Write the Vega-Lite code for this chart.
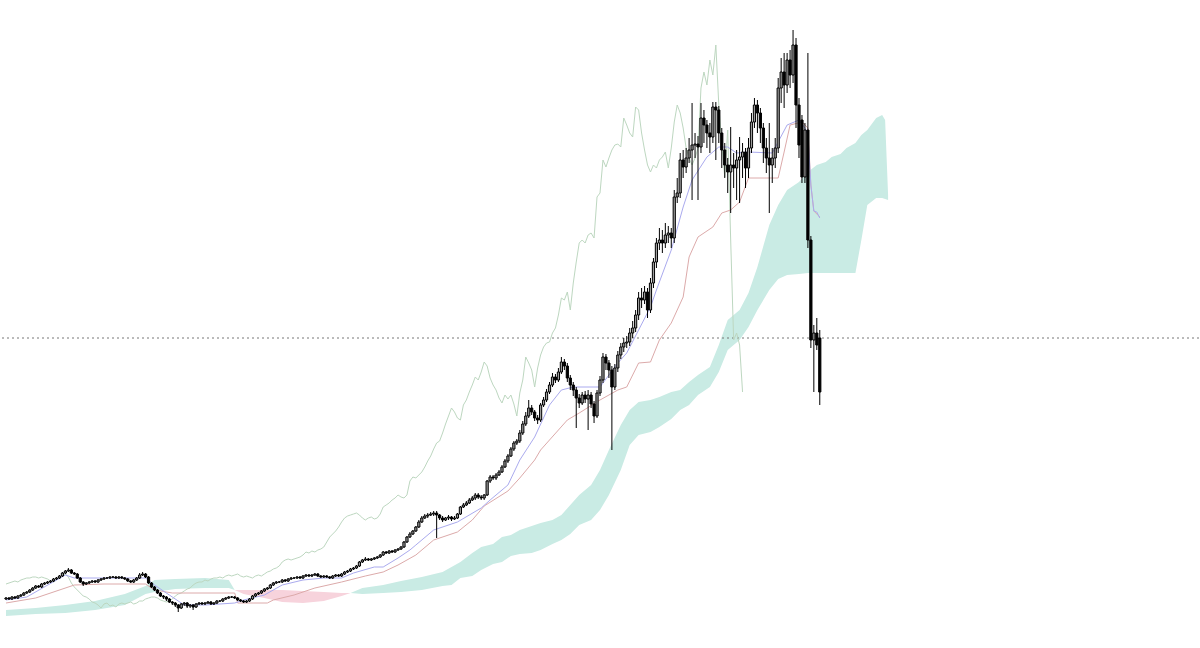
{
"$schema": "https://vega.github.io/schema/vega-lite/v6.json",
"width": 1200, "height": 648,
"autosize": {"type": "fit", "contains": "padding"},
"padding": 0,
"background": "#ffffff",
"config": {"view": {"stroke": null}},
"datasets": {
"cloud": [
{"i":0,"a":38,"b":32,"s":1,"t":"up"},{"i":10,"a":40,"b":34,"s":1,"t":"up"},{"i":20,"a":43,"b":35,"s":1,"t":"up"},{"i":30,"a":47,"b":38,"s":1,"t":"up"},{"i":40,"a":54,"b":43,"s":1,"t":"up"},{"i":47,"a":62,"b":54,"s":1,"t":"up"},{"i":50,"a":68,"b":56,"s":1,"t":"up"},{"i":57,"a":69,"b":59,"s":1,"t":"up"},{"i":67,"a":70,"b":60,"s":1,"t":"up"},{"i":75,"a":68,"b":60,"s":1,"t":"up"},{"i":77,"a":58,"b":58,"s":1,"t":"up"},
{"i":77,"a":58,"b":58,"s":2,"t":"dn"},{"i":80,"a":54,"b":58,"s":2,"t":"dn"},{"i":87,"a":50,"b":58,"s":2,"t":"dn"},{"i":93,"a":46,"b":58,"s":2,"t":"dn"},{"i":100,"a":45,"b":57,"s":2,"t":"dn"},{"i":107,"a":47,"b":56,"s":2,"t":"dn"},{"i":113,"a":52,"b":55,"s":2,"t":"dn"},{"i":116,"a":55,"b":55,"s":2,"t":"dn"},
{"i":116,"a":55,"b":55,"s":3,"t":"up"},{"i":120,"a":60,"b":54,"s":3,"t":"up"},{"i":127,"a":63,"b":55,"s":3,"t":"up"},{"i":133,"a":67,"b":56,"s":3,"t":"up"},{"i":140,"a":71,"b":58,"s":3,"t":"up"},{"i":147,"a":76,"b":62,"s":3,"t":"up"},{"i":150,"a":81,"b":63,"s":3,"t":"up"},{"i":153,"a":86,"b":70,"s":3,"t":"up"},{"i":157,"a":95,"b":72,"s":3,"t":"up"},{"i":160,"a":101,"b":78,"s":3,"t":"up"},{"i":164,"a":104,"b":84,"s":3,"t":"up"},{"i":167,"a":111,"b":86,"s":3,"t":"up"},{"i":170,"a":113,"b":92,"s":3,"t":"up"},{"i":173,"a":118,"b":94,"s":3,"t":"up"},{"i":177,"a":122,"b":95,"s":3,"t":"up"},{"i":180,"a":125,"b":98,"s":3,"t":"up"},{"i":184,"a":128,"b":104,"s":3,"t":"up"},{"i":187,"a":133,"b":108,"s":3,"t":"up"},{"i":190,"a":143,"b":114,"s":3,"t":"up"},{"i":193,"a":153,"b":123,"s":3,"t":"up"},{"i":197,"a":163,"b":128,"s":3,"t":"up"},{"i":200,"a":178,"b":138,"s":3,"t":"up"},{"i":203,"a":198,"b":153,"s":3,"t":"up"},{"i":207,"a":223,"b":178,"s":3,"t":"up"},{"i":210,"a":238,"b":203,"s":3,"t":"up"},{"i":213,"a":246,"b":213,"s":3,"t":"up"},{"i":217,"a":248,"b":216,"s":3,"t":"up"},{"i":220,"a":251,"b":221,"s":3,"t":"up"},{"i":224,"a":256,"b":229,"s":3,"t":"up"},{"i":227,"a":258,"b":238,"s":3,"t":"up"},{"i":230,"a":266,"b":243,"s":3,"t":"up"},{"i":233,"a":273,"b":253,"s":3,"t":"up"},{"i":237,"a":281,"b":261,"s":3,"t":"up"},{"i":240,"a":303,"b":276,"s":3,"t":"up"},{"i":243,"a":328,"b":298,"s":3,"t":"up"},{"i":247,"a":338,"b":308,"s":3,"t":"up"},{"i":250,"a":355,"b":321,"s":3,"t":"up"},{"i":253,"a":381,"b":338,"s":3,"t":"up"},{"i":257,"a":423,"b":358,"s":3,"t":"up"},{"i":260,"a":443,"b":369,"s":3,"t":"up"},{"i":263,"a":458,"b":373,"s":3,"t":"up"},{"i":267,"a":466,"b":374,"s":3,"t":"up"},{"i":270,"a":476,"b":375,"s":3,"t":"up"},{"i":273,"a":483,"b":375,"s":3,"t":"up"},{"i":276,"a":486,"b":375,"s":3,"t":"up"},{"i":278,"a":491,"b":375,"s":3,"t":"up"},{"i":281,"a":494,"b":375,"s":3,"t":"up"},{"i":283,"a":500,"b":375,"s":3,"t":"up"},{"i":286,"a":505,"b":375,"s":3,"t":"up"},{"i":288,"a":513,"b":408,"s":3,"t":"up"},{"i":290,"a":518,"b":443,"s":3,"t":"up"},{"i":293,"a":530,"b":450,"s":3,"t":"up"},{"i":295,"a":533,"b":450,"s":3,"t":"up"},{"i":296,"a":528,"b":449,"s":3,"t":"up"},{"i":297,"a":453,"b":448,"s":3,"t":"up"}
],
"tk": [
{"i":0,"v":48},{"i":7,"v":51},{"i":17,"v":68},{"i":20,"v":73},{"i":23,"v":70},{"i":47,"v":70},{"i":50,"v":63},{"i":55,"v":53},{"i":60,"v":43},{"i":67,"v":43},{"i":77,"v":45},{"i":80,"v":48},{"i":87,"v":53},{"i":93,"v":63},{"i":100,"v":68},{"i":107,"v":70},{"i":113,"v":70},{"i":117,"v":75},{"i":124,"v":81},{"i":127,"v":81},{"i":132,"v":90},{"i":136,"v":98},{"i":138,"v":103},{"i":144,"v":118},{"i":152,"v":126},{"i":160,"v":140},{"i":163,"v":148},{"i":169,"v":163},{"i":173,"v":188},{"i":178,"v":211},{"i":183,"v":243},{"i":187,"v":258},{"i":191,"v":261},{"i":200,"v":261},{"i":206,"v":285},{"i":209,"v":295},{"i":213,"v":318},{"i":217,"v":341},{"i":219,"v":358},{"i":224,"v":398},{"i":228,"v":441},{"i":231,"v":468},{"i":236,"v":491},{"i":240,"v":501},{"i":243,"v":501},{"i":246,"v":495},{"i":250,"v":496},{"i":258,"v":495},{"i":263,"v":523},{"i":267,"v":528},{"i":269,"v":520},{"i":270,"v":513},{"i":271,"v":463},{"i":272,"v":437},{"i":273,"v":436},{"i":274,"v":430}
],
"kj": [
{"i":0,"v":45},{"i":10,"v":50},{"i":23,"v":63},{"i":33,"v":64},{"i":47,"v":64},{"i":50,"v":58},{"i":56,"v":55},{"i":77,"v":55},{"i":78,"v":45},{"i":88,"v":45},{"i":90,"v":48},{"i":97,"v":53},{"i":104,"v":60},{"i":113,"v":66},{"i":121,"v":72},{"i":127,"v":76},{"i":132,"v":83},{"i":138,"v":93},{"i":144,"v":108},{"i":152,"v":116},{"i":157,"v":128},{"i":161,"v":142},{"i":169,"v":157},{"i":173,"v":170},{"i":178,"v":188},{"i":180,"v":198},{"i":183,"v":208},{"i":189,"v":228},{"i":193,"v":235},{"i":200,"v":248},{"i":206,"v":258},{"i":209,"v":261},{"i":213,"v":285},{"i":217,"v":286},{"i":220,"v":308},{"i":224,"v":325},{"i":228,"v":351},{"i":230,"v":391},{"i":233,"v":411},{"i":238,"v":421},{"i":241,"v":435},{"i":244,"v":438},{"i":247,"v":446},{"i":250,"v":470},{"i":260,"v":470},{"i":262,"v":496},{"i":264,"v":523},{"i":268,"v":526},{"i":270,"v":520},{"i":271,"v":463},{"i":272,"v":437},{"i":274,"v":431}
],
"last": [{"p":310}],
"bars": [
{"i":0,"o":49,"h":51,"l":48,"c":50,"k":64},{"i":1,"o":50,"h":51,"l":48,"c":49,"k":65},{"i":2,"o":49,"h":52,"l":48,"c":51,"k":66},{"i":3,"o":51,"h":52,"l":49,"c":50,"k":67},{"i":4,"o":50,"h":53,"l":49,"c":52,"k":66},{"i":5,"o":52,"h":54,"l":51,"c":53,"k":68},{"i":6,"o":53,"h":56,"l":52,"c":55,"k":69},{"i":7,"o":55,"h":57,"l":54,"c":56,"k":70},{"i":8,"o":56,"h":59,"l":55,"c":58,"k":70},{"i":9,"o":58,"h":61,"l":57,"c":60,"k":71},
{"i":10,"o":60,"h":63,"l":59,"c":62,"k":71},{"i":11,"o":62,"h":63,"l":60,"c":61,"k":70},{"i":12,"o":61,"h":65,"l":60,"c":64,"k":71},{"i":13,"o":64,"h":66,"l":63,"c":65,"k":70},{"i":14,"o":65,"h":67,"l":64,"c":66,"k":69},{"i":15,"o":66,"h":68,"l":65,"c":67,"k":67},{"i":16,"o":67,"h":70,"l":66,"c":69,"k":66},{"i":17,"o":69,"h":71,"l":68,"c":70,"k":68},{"i":18,"o":70,"h":73,"l":69,"c":72,"k":70},{"i":19,"o":72,"h":76,"l":71,"c":75,"k":73},
{"i":20,"o":75,"h":78,"l":74,"c":77,"k":74},{"i":21,"o":77,"h":80,"l":76,"c":78,"k":71},{"i":22,"o":78,"h":79,"l":74,"c":75,"k":65},{"i":23,"o":75,"h":76,"l":73,"c":74,"k":61},{"i":24,"o":74,"h":75,"l":69,"c":70,"k":58},{"i":25,"o":70,"h":71,"l":65,"c":66,"k":55},{"i":26,"o":66,"h":67,"l":62,"c":64,"k":52},{"i":27,"o":64,"h":66,"l":63,"c":65,"k":51},{"i":28,"o":65,"h":67,"l":64,"c":66,"k":49},{"i":29,"o":66,"h":68,"l":65,"c":67,"k":46},
{"i":30,"o":67,"h":68,"l":65,"c":66,"k":45},{"i":31,"o":66,"h":69,"l":65,"c":68,"k":43},{"i":32,"o":68,"h":70,"l":67,"c":69,"k":40},{"i":33,"o":69,"h":71,"l":68,"c":70,"k":44},{"i":34,"o":70,"h":71,"l":69,"c":70,"k":45},{"i":35,"o":70,"h":72,"l":69,"c":71,"k":42},{"i":36,"o":71,"h":72,"l":70,"c":71,"k":43},{"i":37,"o":71,"h":72,"l":69,"c":70,"k":41},{"i":38,"o":70,"h":72,"l":69,"c":71,"k":44},{"i":39,"o":71,"h":72,"l":69,"c":70,"k":45},
{"i":40,"o":70,"h":71,"l":68,"c":69,"k":44},{"i":41,"o":69,"h":70,"l":66,"c":67,"k":45},{"i":42,"o":67,"h":68,"l":65,"c":66,"k":46},{"i":43,"o":66,"h":69,"l":65,"c":68,"k":44},{"i":44,"o":68,"h":71,"l":67,"c":70,"k":45},{"i":45,"o":70,"h":75,"l":69,"c":73,"k":47},{"i":46,"o":73,"h":76,"l":72,"c":74,"k":47},{"i":47,"o":74,"h":75,"l":70,"c":71,"k":49},{"i":48,"o":71,"h":72,"l":64,"c":65,"k":50},{"i":49,"o":65,"h":66,"l":60,"c":61,"k":51},
{"i":50,"o":61,"h":62,"l":57,"c":58,"k":51},{"i":51,"o":58,"h":59,"l":54,"c":55,"k":50},{"i":52,"o":55,"h":56,"l":51,"c":52,"k":48},{"i":53,"o":52,"h":53,"l":49,"c":51,"k":47},{"i":54,"o":51,"h":52,"l":47,"c":49,"k":46},{"i":55,"o":49,"h":50,"l":45,"c":46,"k":47},{"i":56,"o":46,"h":47,"l":43,"c":45,"k":49},{"i":57,"o":45,"h":46,"l":41,"c":43,"k":52},{"i":58,"o":43,"h":44,"l":36,"c":40,"k":54},{"i":59,"o":40,"h":45,"l":39,"c":44,"k":55},
{"i":60,"o":44,"h":46,"l":42,"c":45,"k":57},{"i":61,"o":45,"h":46,"l":40,"c":42,"k":59},{"i":62,"o":42,"h":44,"l":40,"c":43,"k":60},{"i":63,"o":43,"h":44,"l":38,"c":41,"k":63},{"i":64,"o":41,"h":45,"l":40,"c":44,"k":65},{"i":65,"o":44,"h":46,"l":43,"c":45,"k":66},{"i":66,"o":45,"h":46,"l":43,"c":44,"k":66},{"i":67,"o":44,"h":46,"l":43,"c":45,"k":68},{"i":68,"o":45,"h":47,"l":44,"c":46,"k":67},{"i":69,"o":46,"h":47,"l":43,"c":44,"k":69},
{"i":70,"o":44,"h":46,"l":43,"c":45,"k":70},{"i":71,"o":45,"h":48,"l":44,"c":47,"k":70},{"i":72,"o":47,"h":48,"l":46,"c":47,"k":71},{"i":73,"o":47,"h":50,"l":46,"c":49,"k":70},{"i":74,"o":49,"h":51,"l":48,"c":50,"k":72},{"i":75,"o":50,"h":52,"l":49,"c":51,"k":73},{"i":76,"o":51,"h":52,"l":50,"c":51,"k":72},{"i":77,"o":51,"h":52,"l":49,"c":50,"k":73},{"i":78,"o":50,"h":51,"l":47,"c":48,"k":74},{"i":79,"o":48,"h":49,"l":46,"c":47,"k":72},
{"i":80,"o":47,"h":48,"l":45,"c":46,"k":71},{"i":81,"o":46,"h":48,"l":45,"c":47,"k":72},{"i":82,"o":47,"h":50,"l":46,"c":49,"k":71},{"i":83,"o":49,"h":53,"l":48,"c":52,"k":70},{"i":84,"o":52,"h":55,"l":51,"c":54,"k":72},{"i":85,"o":54,"h":56,"l":53,"c":55,"k":73},{"i":86,"o":55,"h":58,"l":54,"c":57,"k":72},{"i":87,"o":57,"h":60,"l":56,"c":59,"k":74},{"i":88,"o":59,"h":61,"l":58,"c":60,"k":76},{"i":89,"o":60,"h":64,"l":59,"c":63,"k":77},
{"i":90,"o":63,"h":66,"l":62,"c":65,"k":79},{"i":91,"o":65,"h":67,"l":64,"c":66,"k":80},{"i":92,"o":66,"h":67,"l":65,"c":66,"k":82},{"i":93,"o":66,"h":69,"l":65,"c":68,"k":86},{"i":94,"o":68,"h":69,"l":66,"c":67,"k":88},{"i":95,"o":67,"h":70,"l":66,"c":69,"k":89},{"i":96,"o":69,"h":71,"l":68,"c":70,"k":88},{"i":97,"o":70,"h":71,"l":69,"c":70,"k":89},{"i":98,"o":70,"h":72,"l":69,"c":71,"k":90},{"i":99,"o":71,"h":72,"l":69,"c":70,"k":91},
{"i":100,"o":70,"h":73,"l":69,"c":72,"k":93},{"i":101,"o":72,"h":74,"l":71,"c":73,"k":96},{"i":102,"o":73,"h":74,"l":71,"c":72,"k":95},{"i":103,"o":72,"h":74,"l":71,"c":73,"k":97},{"i":104,"o":73,"h":75,"l":72,"c":74,"k":96},{"i":105,"o":74,"h":75,"l":71,"c":72,"k":98},{"i":106,"o":72,"h":73,"l":70,"c":71,"k":99},{"i":107,"o":71,"h":73,"l":70,"c":72,"k":101},{"i":108,"o":72,"h":73,"l":70,"c":71,"k":106},{"i":109,"o":71,"h":72,"l":69,"c":70,"k":111},
{"i":110,"o":70,"h":73,"l":69,"c":72,"k":114},{"i":111,"o":72,"h":74,"l":71,"c":73,"k":117},{"i":112,"o":73,"h":74,"l":71,"c":72,"k":121},{"i":113,"o":72,"h":75,"l":71,"c":74,"k":126},{"i":114,"o":74,"h":77,"l":73,"c":76,"k":130},{"i":115,"o":76,"h":78,"l":75,"c":77,"k":132},{"i":116,"o":77,"h":80,"l":76,"c":79,"k":133},{"i":117,"o":79,"h":81,"l":78,"c":80,"k":134},{"i":118,"o":80,"h":83,"l":79,"c":82,"k":135},{"i":119,"o":82,"h":87,"l":81,"c":86,"k":133},
{"i":120,"o":86,"h":89,"l":85,"c":88,"k":130},{"i":121,"o":88,"h":91,"l":87,"c":89,"k":128},{"i":122,"o":89,"h":90,"l":87,"c":88,"k":130},{"i":123,"o":88,"h":90,"l":87,"c":89,"k":131},{"i":124,"o":89,"h":91,"l":88,"c":90,"k":129},{"i":125,"o":90,"h":92,"l":89,"c":91,"k":130},{"i":126,"o":91,"h":94,"l":90,"c":93,"k":134},{"i":127,"o":93,"h":97,"l":92,"c":96,"k":141},{"i":128,"o":96,"h":97,"l":94,"c":95,"k":143},{"i":129,"o":95,"h":98,"l":94,"c":97,"k":145},
{"i":130,"o":97,"h":98,"l":95,"c":96,"k":148},{"i":131,"o":96,"h":99,"l":95,"c":98,"k":150},{"i":132,"o":98,"h":100,"l":97,"c":99,"k":153},{"i":133,"o":99,"h":102,"l":98,"c":101,"k":151},{"i":134,"o":101,"h":107,"l":100,"c":106,"k":150},{"i":135,"o":106,"h":112,"l":105,"c":111,"k":153},{"i":136,"o":111,"h":116,"l":110,"c":114,"k":167},{"i":137,"o":114,"h":118,"l":113,"c":117,"k":171},{"i":138,"o":117,"h":122,"l":116,"c":121,"k":170},{"i":139,"o":121,"h":128,"l":120,"c":126,"k":173},
{"i":140,"o":126,"h":132,"l":125,"c":130,"k":176},{"i":141,"o":130,"h":134,"l":129,"c":132,"k":181},{"i":142,"o":132,"h":135,"l":130,"c":133,"k":187},{"i":143,"o":133,"h":136,"l":132,"c":134,"k":192},{"i":144,"o":134,"h":137,"l":132,"c":135,"k":199},{"i":145,"o":135,"h":137,"l":110,"c":133,"k":205},{"i":146,"o":133,"h":134,"l":128,"c":130,"k":207},{"i":147,"o":130,"h":132,"l":126,"c":128,"k":215},{"i":148,"o":128,"h":131,"l":127,"c":130,"k":224},{"i":149,"o":130,"h":133,"l":128,"c":131,"k":232},
{"i":150,"o":131,"h":132,"l":127,"c":129,"k":240},{"i":151,"o":129,"h":132,"l":128,"c":130,"k":236},{"i":152,"o":130,"h":135,"l":129,"c":134,"k":230},{"i":153,"o":134,"h":142,"l":133,"c":141,"k":228},{"i":154,"o":141,"h":145,"l":140,"c":143,"k":243},{"i":155,"o":143,"h":147,"l":142,"c":145,"k":248},{"i":156,"o":145,"h":150,"l":144,"c":148,"k":256},{"i":157,"o":148,"h":152,"l":147,"c":150,"k":263},{"i":158,"o":150,"h":155,"l":148,"c":153,"k":271},{"i":159,"o":153,"h":155,"l":149,"c":151,"k":268},
{"i":160,"o":151,"h":153,"l":148,"c":150,"k":276},{"i":161,"o":150,"h":154,"l":148,"c":153,"k":286},{"i":162,"o":153,"h":168,"l":152,"c":167,"k":282},{"i":163,"o":167,"h":173,"l":165,"c":171,"k":270},{"i":164,"o":171,"h":173,"l":168,"c":170,"k":263},{"i":165,"o":170,"h":175,"l":168,"c":173,"k":258},{"i":166,"o":173,"h":178,"l":172,"c":176,"k":250},{"i":167,"o":176,"h":183,"l":175,"c":181,"k":245},{"i":168,"o":181,"h":189,"l":180,"c":187,"k":253},{"i":169,"o":187,"h":194,"l":185,"c":192,"k":249},
{"i":170,"o":192,"h":201,"l":191,"c":199,"k":253},{"i":171,"o":199,"h":207,"l":197,"c":205,"k":244},{"i":172,"o":205,"h":209,"l":203,"c":207,"k":232},{"i":173,"o":207,"h":218,"l":205,"c":215,"k":255},{"i":174,"o":215,"h":227,"l":213,"c":224,"k":268},{"i":175,"o":224,"h":236,"l":222,"c":232,"k":291},{"i":176,"o":232,"h":248,"l":230,"c":240,"k":285},{"i":177,"o":240,"h":243,"l":233,"c":236,"k":278},{"i":178,"o":236,"h":238,"l":227,"c":230,"k":261},{"i":179,"o":230,"h":233,"l":224,"c":228,"k":280},
{"i":180,"o":228,"h":245,"l":226,"c":243,"k":293},{"i":181,"o":243,"h":251,"l":241,"c":248,"k":301},{"i":182,"o":248,"h":259,"l":246,"c":256,"k":305},{"i":183,"o":256,"h":266,"l":254,"c":263,"k":306},{"i":184,"o":263,"h":275,"l":261,"c":271,"k":315},{"i":185,"o":271,"h":274,"l":265,"c":268,"k":320},{"i":186,"o":268,"h":280,"l":266,"c":276,"k":333},{"i":187,"o":276,"h":291,"l":274,"c":286,"k":350},{"i":188,"o":286,"h":289,"l":278,"c":282,"k":348},{"i":189,"o":282,"h":285,"l":266,"c":270,"k":356},
{"i":190,"o":270,"h":273,"l":258,"c":263,"k":338},{"i":191,"o":263,"h":266,"l":252,"c":258,"k":365},{"i":192,"o":258,"h":261,"l":220,"c":250,"k":386},{"i":193,"o":250,"h":254,"l":240,"c":245,"k":405},{"i":194,"o":245,"h":256,"l":243,"c":253,"k":408},{"i":195,"o":253,"h":257,"l":245,"c":249,"k":405},{"i":196,"o":249,"h":258,"l":218,"c":253,"k":413},{"i":197,"o":253,"h":256,"l":240,"c":244,"k":415},{"i":198,"o":244,"h":247,"l":225,"c":232,"k":410},{"i":199,"o":232,"h":258,"l":230,"c":255,"k":451},
{"i":200,"o":255,"h":272,"l":252,"c":268,"k":455},{"i":201,"o":268,"h":295,"l":265,"c":291,"k":488},{"i":202,"o":291,"h":294,"l":278,"c":285,"k":481},{"i":203,"o":285,"h":288,"l":270,"c":278,"k":490},{"i":204,"o":278,"h":282,"l":198,"c":261,"k":498},{"i":205,"o":261,"h":284,"l":258,"c":280,"k":503},{"i":206,"o":280,"h":297,"l":276,"c":293,"k":504},{"i":207,"o":293,"h":305,"l":289,"c":301,"k":501},{"i":208,"o":301,"h":310,"l":296,"c":305,"k":530},{"i":209,"o":305,"h":312,"l":300,"c":306,"k":523},
{"i":210,"o":306,"h":320,"l":302,"c":315,"k":515},{"i":211,"o":315,"h":327,"l":310,"c":320,"k":511},{"i":212,"o":320,"h":338,"l":316,"c":333,"k":541},{"i":213,"o":333,"h":356,"l":328,"c":350,"k":538},{"i":214,"o":350,"h":360,"l":340,"c":348,"k":515},{"i":215,"o":348,"h":362,"l":344,"c":356,"k":498},{"i":216,"o":356,"h":360,"l":330,"c":338,"k":483},{"i":217,"o":338,"h":370,"l":335,"c":365,"k":476},{"i":218,"o":365,"h":390,"l":360,"c":386,"k":483},{"i":219,"o":386,"h":410,"l":380,"c":405,"k":480},
{"i":220,"o":405,"h":420,"l":398,"c":408,"k":488},{"i":221,"o":408,"h":418,"l":395,"c":405,"k":491},{"i":222,"o":405,"h":425,"l":400,"c":413,"k":496},{"i":223,"o":413,"h":422,"l":405,"c":415,"k":480},{"i":224,"o":415,"h":420,"l":400,"c":410,"k":500},{"i":225,"o":410,"h":458,"l":405,"c":451,"k":526},{"i":226,"o":451,"h":470,"l":445,"c":455,"k":543},{"i":227,"o":455,"h":495,"l":450,"c":488,"k":535},{"i":228,"o":488,"h":498,"l":470,"c":481,"k":520},{"i":229,"o":481,"h":500,"l":475,"c":490,"k":500},
{"i":230,"o":490,"h":510,"l":485,"c":498,"k":490},{"i":231,"o":498,"h":545,"l":448,"c":503,"k":483},{"i":232,"o":503,"h":515,"l":490,"c":504,"k":490},{"i":233,"o":504,"h":512,"l":448,"c":501,"k":500},{"i":234,"o":501,"h":545,"l":495,"c":530,"k":560},{"i":235,"o":530,"h":538,"l":505,"c":523,"k":576},{"i":236,"o":523,"h":528,"l":500,"c":515,"k":563},{"i":237,"o":515,"h":525,"l":495,"c":511,"k":588},{"i":238,"o":511,"h":546,"l":505,"c":541,"k":573},{"i":239,"o":541,"h":546,"l":488,"c":538,"k":603},
{"i":240,"o":538,"h":542,"l":505,"c":515,"k":543},{"i":241,"o":515,"h":520,"l":480,"c":498,"k":503},{"i":242,"o":498,"h":505,"l":470,"c":483,"k":471},{"i":243,"o":483,"h":490,"l":455,"c":476,"k":518},{"i":244,"o":476,"h":521,"l":435,"c":483,"k":408},{"i":245,"o":483,"h":495,"l":460,"c":480,"k":308},{"i":246,"o":480,"h":498,"l":448,"c":488,"k":315},{"i":247,"o":488,"h":511,"l":445,"c":491,"k":303},{"i":248,"o":491,"h":505,"l":470,"c":496,"k":256},{"i":249,"o":496,"h":500,"l":460,"c":480},
{"i":250,"o":480,"h":510,"l":470,"c":500},{"i":251,"o":500,"h":535,"l":495,"c":526},{"i":252,"o":526,"h":550,"l":520,"c":543},{"i":253,"o":543,"h":548,"l":515,"c":535},{"i":254,"o":535,"h":540,"l":505,"c":520},{"i":255,"o":520,"h":525,"l":485,"c":500},{"i":256,"o":500,"h":510,"l":475,"c":490},{"i":257,"o":490,"h":525,"l":435,"c":483},{"i":258,"o":483,"h":500,"l":465,"c":490},{"i":259,"o":490,"h":510,"l":480,"c":500},
{"i":260,"o":500,"h":570,"l":495,"c":560},{"i":261,"o":560,"h":590,"l":545,"c":576},{"i":262,"o":576,"h":595,"l":540,"c":563},{"i":263,"o":563,"h":595,"l":555,"c":588},{"i":264,"o":588,"h":598,"l":560,"c":573},{"i":265,"o":573,"h":618,"l":565,"c":603},{"i":266,"o":603,"h":610,"l":520,"c":543},{"i":267,"o":543,"h":550,"l":490,"c":503},{"i":268,"o":528,"h":533,"l":465,"c":471},{"i":269,"o":471,"h":525,"l":465,"c":518},
{"i":270,"o":518,"h":595,"l":400,"c":408},{"i":271,"o":408,"h":412,"l":300,"c":308},{"i":272,"o":308,"h":323,"l":256,"c":315},{"i":273,"o":315,"h":330,"l":298,"c":303},{"i":274,"o":310,"h":318,"l":243,"c":256}
]
},
"encoding": {
"x": {"field": "i", "type": "quantitative", "scale": {"domain": [0, 400], "nice": false, "zero": false}, "axis": null}
},
"layer": [
{"data": {"name": "cloud"}, "mark": {"type": "area", "opacity": 1},
 "encoding": {
  "y": {"field": "a", "type": "quantitative", "scale": {"domain": [0, 648], "nice": false, "zero": false}, "axis": null},
  "y2": {"field": "b"},
  "color": {"field": "t", "type": "nominal", "scale": {"domain": ["up", "dn"], "range": ["#c9ebe4", "#f7d3dc"]}, "legend": null},
  "detail": {"field": "s"}
 }},
{"data": {"name": "last"}, "mark": {"type": "rule", "color": "#777777", "strokeDash": [2, 3], "strokeWidth": 1},
 "encoding": {"x": null, "y": {"field": "p", "type": "quantitative"}}},
{"data": {"name": "bars"}, "transform": [{"filter": "isValid(datum.k)"}],
 "mark": {"type": "line", "color": "#bdd7c0", "strokeWidth": 1},
 "encoding": {"y": {"field": "k", "type": "quantitative"}}},
{"data": {"name": "kj"}, "mark": {"type": "line", "color": "#dcaaaa", "strokeWidth": 1},
 "encoding": {"y": {"field": "v", "type": "quantitative"}}},
{"data": {"name": "tk"}, "mark": {"type": "line", "color": "#aaaaee", "strokeWidth": 1},
 "encoding": {"y": {"field": "v", "type": "quantitative"}}},
{"data": {"name": "bars"}, "mark": {"type": "rule", "color": "#000000", "strokeWidth": 1},
 "encoding": {"y": {"field": "l", "type": "quantitative"}, "y2": {"field": "h"}}},
{"data": {"name": "bars"}, "mark": {"type": "bar", "size": 2.2, "stroke": "#000000", "strokeWidth": 1},
 "encoding": {"y": {"field": "o", "type": "quantitative"}, "y2": {"field": "c"},
  "fill": {"condition": {"test": "datum.c >= datum.o", "value": "#9c9c9c"}, "value": "#000000"}}}
]
}
